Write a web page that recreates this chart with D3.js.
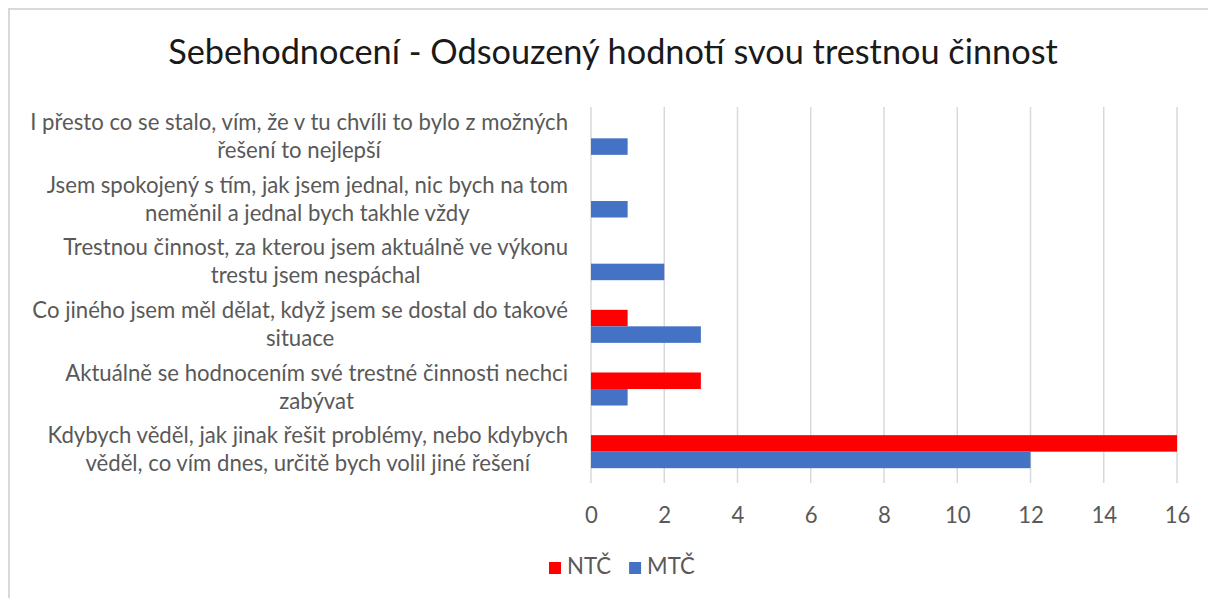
<!DOCTYPE html>
<html>
<head>
<meta charset="utf-8">
<script src="https://cdn.jsdelivr.net/npm/d3@7"></script>
<style>
  html, body { margin: 0; padding: 0; background: #fff; }
  svg { display: block; }
  text { font-family: Lato, "Open Sans", sans-serif; }
</style>
</head>
<body>
<svg id="chart" width="1208" height="598"></svg>
<script>
// Survey answers (top to bottom), line breaks as shown on the axis
const categories = [
  "I přesto co se stalo, vím, že v tu chvíli to bylo z možných\nřešení to nejlepší",
  "Jsem spokojený s tím, jak jsem jednal, nic bych na tom\nneměnil a jednal bych takhle vždy",
  "Trestnou činnost, za kterou jsem aktuálně ve výkonu\ntrestu jsem nespáchal",
  "Co jiného jsem měl dělat, když jsem se dostal do takové\nsituace",
  "Aktuálně se hodnocením své trestné činnosti nechci\nzabývat",
  "Kdybych věděl, jak jinak řešit problémy, nebo kdybych\nvěděl, co vím dnes, určitě bych volil jiné řešení"
];
const seriesNames = ["NTČ", "MTČ"];
const ntcValues = [0, 0, 0, 1, 3, 16];
const mtcValues = [1, 1, 2, 3, 1, 12];
const xTicks = [0, 2, 4, 6, 8, 10, 12, 14, 16];
const colors = ["#FF0000", "#4472C4"];
const title = "Sebehodnocení - Odsouzený hodnotí svou trestnou činnost";

const svg = d3.select("#chart");
const W = 1208, H = 598;
const plot = { left: 591, right: 1177, top: 107, bottom: 483 };

// chart frame (left and top edges visible)
svg.append("path")
  .attr("d", `M9,${H} V9 H${W}`)
  .attr("fill", "none")
  .attr("stroke", "#d9d9d9")
  .attr("stroke-width", 2);

// title
const titleText = svg.append("text")
  .attr("x", 613).attr("y", 55)
  .attr("text-anchor", "middle")
  .attr("dominant-baseline", "middle")
  .attr("fill", "#1a1a1a")
  .attr("font-size", 30)
  .text(title);
{
  const w = titleText.node().getComputedTextLength();
  titleText.attr("font-size", 30 * 890 / w);
}

const x = d3.scaleLinear().domain([0, 16]).range([plot.left, plot.right]);
const y = d3.scaleBand().domain(categories).range([plot.top, plot.bottom])
  .paddingInner(0.473).paddingOuter(0.2365);
const ySub = d3.scaleBand().domain(seriesNames).range([0, y.bandwidth()]);

// vertical gridlines
svg.append("g")
  .selectAll("line")
  .data(xTicks)
  .join("line")
  .attr("x1", d => x(d)).attr("x2", d => x(d))
  .attr("y1", plot.top).attr("y2", plot.bottom)
  .attr("stroke", "#d9d9d9")
  .attr("stroke-width", 1.5);

// bars
const rows = categories.map((c, i) => ({ c, vals: [ntcValues[i], mtcValues[i]] }));
const groups = svg.append("g")
  .selectAll("g")
  .data(rows)
  .join("g")
  .attr("transform", d => `translate(0,${y(d.c)})`);
groups.selectAll("rect")
  .data(d => d.vals.map((v, k) => ({ v, k })))
  .join("rect")
  .attr("x", x(0))
  .attr("y", d => ySub(seriesNames[d.k]))
  .attr("width", d => x(d.v) - x(0))
  .attr("height", ySub.bandwidth())
  .attr("fill", d => colors[d.k]);

// x axis tick labels
const xAxis = svg.append("g")
  .attr("transform", `translate(0,${plot.bottom})`)
  .call(d3.axisBottom(x).tickValues(xTicks).tickSize(0).tickPadding(24));
xAxis.select(".domain").remove();
xAxis.selectAll("text")
  .attr("font-family", "Lato, 'Open Sans', sans-serif")
  .attr("font-size", 20)
  .attr("fill", "#595959");

// category labels, centred block ending just left of the axis
const labelRight = 568;
let labelSize = 20;
const labelG = svg.append("g");
const labelBlocks = labelG.selectAll("g")
  .data(categories)
  .join("g");
labelBlocks.each(function (c) {
  const lines = c.split("\n");
  const g = d3.select(this);
  const cy = y(c) + y.bandwidth() / 2;
  lines.forEach((ln, j) => {
    g.append("text")
      .attr("y", cy + (j - (lines.length - 1) / 2) * 28)
      .attr("dominant-baseline", "middle")
      .attr("text-anchor", "middle")
      .attr("fill", "#595959")
      .attr("font-size", labelSize)
      .text(ln);
  });
});
// fit the longest line to its width
{
  const first = labelG.select("text").node();
  const w = first.getComputedTextLength();
  labelSize = 20 * 538 / w;
  labelG.selectAll("text").attr("font-size", labelSize);
}
labelBlocks.each(function () {
  const texts = d3.select(this).selectAll("text");
  let maxW = 0;
  texts.each(function () { maxW = Math.max(maxW, this.getComputedTextLength()); });
  texts.attr("x", labelRight - maxW / 2);
});
xAxis.selectAll("text").attr("font-size", labelSize);

// legend
const legend = svg.append("g").attr("transform", "translate(549,568)");
let lx = 0;
seriesNames.forEach((name, k) => {
  legend.append("rect")
    .attr("x", lx).attr("y", -6)
    .attr("width", 12).attr("height", 12)
    .attr("fill", colors[k]);
  const t = legend.append("text")
    .attr("x", lx + 18).attr("y", 0)
    .attr("dominant-baseline", "middle")
    .attr("fill", "#595959")
    .attr("font-size", labelSize)
    .text(name);
  lx += 18 + t.node().getComputedTextLength() + 18;
});
</script>
</body>
</html>
